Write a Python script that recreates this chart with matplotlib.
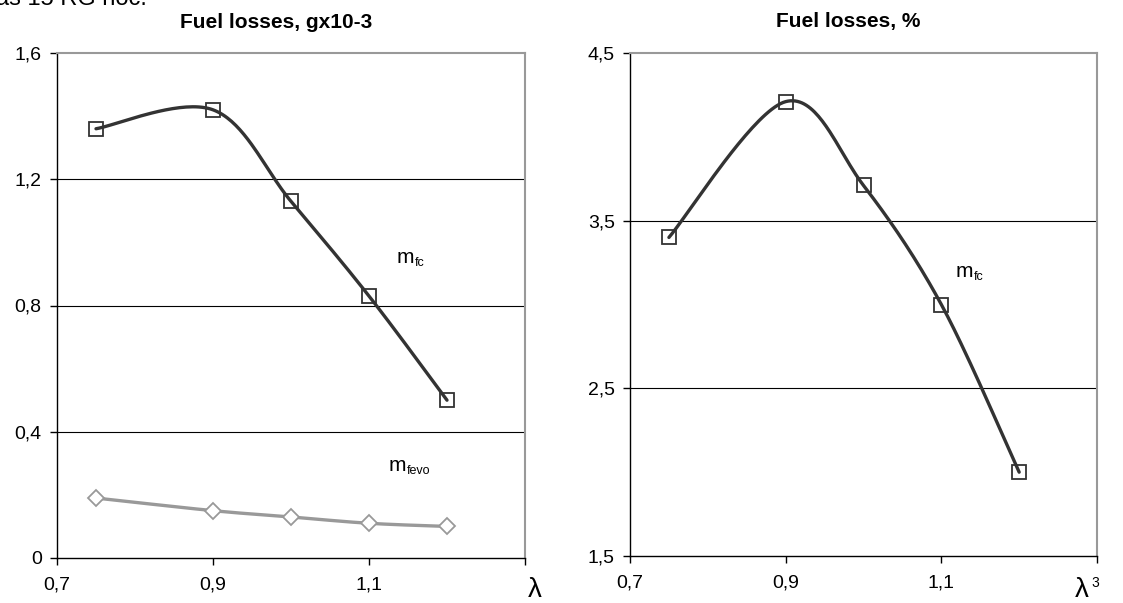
import numpy as np
import matplotlib
matplotlib.use("Agg")
import matplotlib.pyplot as plt

plt.rcParams['font.family'] = ['Liberation Sans', 'DejaVu Sans']
plt.rcParams['mathtext.default'] = 'regular'

# ---- data ----
lam = [0.75, 0.9, 1.0, 1.1, 1.2]
m_fc_g = [1.36, 1.42, 1.13, 0.83, 0.50]
m_fevo_g = [0.19, 0.15, 0.13, 0.11, 0.10]
m_fc_pct = [3.40, 4.21, 3.71, 3.00, 2.00]

x_ticks = [0.7, 0.9, 1.1, 1.3]
x_ticklabels = ['0,7', '0,9', '1,1', '']
left_yticks = [0, 0.4, 0.8, 1.2, 1.6]
left_yticklabels = ['0', '0,4', '0,8', '1,2', '1,6']
right_yticks = [1.5, 2.5, 3.5, 4.5]
right_yticklabels = ['1,5', '2,5', '3,5', '4,5']

left_title = 'Fuel losses, gx10-3'
right_title = 'Fuel losses, %'


def smooth(xs, ys, n=40):
    """Excel-like smoothed line (Catmull-Rom as cubic Bezier)."""
    P = np.column_stack([xs, ys]).astype(float)
    ext = np.vstack([P[0], P, P[-1]])
    out = []
    t = np.linspace(0, 1, n)[:, None]
    for i in range(len(P) - 1):
        p0, p1, p2, p3 = ext[i], ext[i + 1], ext[i + 2], ext[i + 3]
        c1 = p1 + (p2 - p0) / 6.0
        c2 = p2 - (p3 - p1) / 6.0
        seg = ((1 - t) ** 3) * p1 + 3 * ((1 - t) ** 2) * t * c1 + 3 * (1 - t) * t ** 2 * c2 + t ** 3 * p2
        out.append(seg if i == 0 else seg[1:])
    arr = np.vstack(out)
    return arr[:, 0], arr[:, 1]


fig = plt.figure(figsize=(11.23, 6.03), dpi=100)
W, H = 1123, 603
axL = fig.add_axes([57 / W, 1 - 558 / H, 468 / W, 505 / H])
axR = fig.add_axes([630 / W, 1 - 556 / H, 467 / W, 503 / H])

dark = '#333333'
grey = '#999999'


def style(ax, yticks, yticklabels, ylim):
    ax.set_xlim(0.7, 1.3)
    ax.set_ylim(*ylim)
    ax.set_xticks(x_ticks)
    ax.set_xticklabels(x_ticklabels, fontsize=14)
    ax.set_yticks(yticks)
    ax.set_yticklabels(yticklabels, fontsize=14)
    ax.tick_params(axis='both', direction='out', length=5, width=1, color='black', pad=8)
    ax.tick_params(axis='y', pad=6)
    ax.spines['left'].set_color('black')
    ax.spines['bottom'].set_color('black')
    ax.spines['left'].set_linewidth(1.0)
    ax.spines['bottom'].set_linewidth(1.0)
    for s in ('top', 'right'):
        ax.spines[s].set_color(grey)
        ax.spines[s].set_linewidth(1.5)
    for y in yticks[1:-1]:
        ax.axhline(y, color='black', lw=0.8, zorder=1)


style(axL, left_yticks, left_yticklabels, (0, 1.6))
style(axR, right_yticks, right_yticklabels, (1.5, 4.5))

# left curves
sx, sy = smooth(lam, m_fc_g)
axL.plot(sx, sy, color=dark, lw=2.4, zorder=3, solid_capstyle='round')
axL.plot(lam, m_fc_g, ls='none', marker='s', ms=10, mfc='none', mec=dark, mew=1.3, zorder=4)
sx, sy = smooth(lam, m_fevo_g)
axL.plot(sx, sy, color=grey, lw=2.4, zorder=3)
axL.plot(lam, m_fevo_g, ls='none', marker='D', ms=8, mfc='white', mec=grey, mew=1.3, zorder=4)

# right curve
sx, sy = smooth(lam, m_fc_pct)
axR.plot(sx, sy, color=dark, lw=2.4, zorder=3, solid_capstyle='round')
axR.plot(lam, m_fc_pct, ls='none', marker='s', ms=10, mfc='none', mec=dark, mew=1.3, zorder=4)

# titles
title_kw = dict(ha='center', va='center', fontsize=15, fontweight='bold')
fig.text(276 / W, 1 - 22 / H, left_title, **title_kw)
fig.text(848 / W, 1 - 22 / H, right_title, **title_kw)


def mlabel(x, y, sub):
    fig.text(x / W, 1 - y / H, 'm', fontsize=15, va='baseline', ha='left')
    fig.text((x + 18) / W, 1 - (y + 3) / H, sub, fontsize=9, va='baseline', ha='left')


# series labels
mlabel(397, 263, 'fc')
mlabel(389, 471, 'fevo')
mlabel(956, 277, 'fc')

# lambda axis labels
fig.text(535 / W, 1 - 590 / H, 'λ', fontsize=20, ha='center', va='center')
fig.text(1082 / W, 1 - 590 / H, 'λ', fontsize=20, ha='center', va='center')
fig.text(1095 / W, 1 - 583 / H, '3', fontsize=10, ha='center', va='center')

# cropped caption fragment at the very top (cut off in the reference too)
fig.text(-4 / W, 1 - 5 / H, 'as 15 RG noc.', fontsize=17, ha='left', va='baseline')

fig.savefig('out.png', dpi=100)
